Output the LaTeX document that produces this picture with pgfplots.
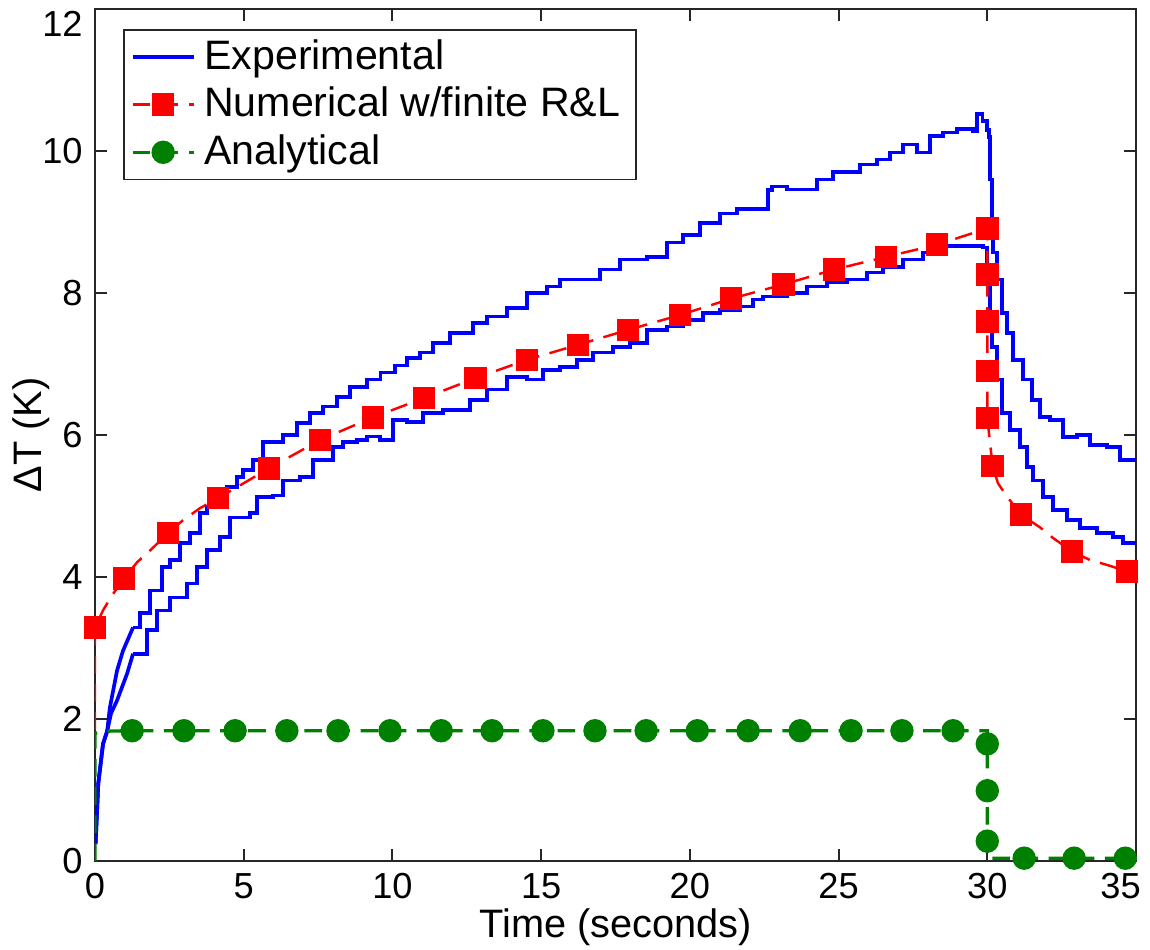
\documentclass[border=0pt]{standalone}
\usepackage{fontspec}
\setmainfont{Liberation Sans}
\usepackage{pgfplots}
\pgfplotsset{compat=1.18}
\definecolor{mblue}{rgb}{0,0,1}
\definecolor{mred}{rgb}{1,0,0}
\definecolor{mgreen}{rgb}{0,0.5,0}

\begin{document}
\begin{tikzpicture}
\begin{axis}[
    scale only axis,
    width=10.41cm, height=8.52cm,
    xmin=0, xmax=35, ymin=0, ymax=12,
    xtick={0,5,...,35}, ytick={0,2,...,12},
    xticklabels={0,5,10,15,20,25,30,\hspace*{-0.31cm}35},
    yticklabels={0,2,4,6,8,10,{\smash{\raisebox{-0.27cm}{12}}}},
    tick align=inside, major tick length=0.12cm,
    axis line style={line width=0.55pt, black!85},
    every tick/.style={black!85, line width=0.55pt},
    tick label style={font=\fontsize{10.3}{12}\selectfont},
    label style={font=\fontsize{11.3}{13}\selectfont, inner sep=0pt},
    xlabel={Time (seconds)}, ylabel={ΔT (K)},
    xlabel style={at={(axis description cs:0.5,-0.100)}, anchor=south},
    ylabel style={at={(axis description cs:-0.0432,0.5)}, anchor=south, rotate=0},
    legend image code/.code={\draw[mark repeat=2,mark phase=2,#1]
        plot coordinates {(0cm,0cm) (0.305cm,0cm) (0.61cm,0cm)};},
    legend style={at={(0.0269,0.9765)}, anchor=north west, draw=black!85,
        line width=0.45pt, font=\fontsize{11.7}{14}\selectfont, row sep=1.2pt,
        inner xsep=2pt, inner ysep=1.5pt,
        nodes={inner xsep=2.5pt, inner ysep=1.2pt}},
    legend cell align=left,
]
% Experimental, upper run: fast rise, then the stepped record
\addplot[mblue, line width=1.05pt, forget plot] coordinates {
(0.02,0.24)(0.11,1.09)(0.27,1.65)(0.41,1.83)(0.50,2.16)(0.74,2.68)(0.94,2.96)
(1.28,3.29)
};
\addplot[mblue, line width=1.05pt, const plot, forget plot] coordinates {
(1.28,3.29)(1.51,3.49)(1.85,3.81)(2.26,4.14)(2.52,4.24)(2.86,4.48)(3.20,4.62)
(3.53,4.90)(3.77,4.98)(4.44,5.27)(4.77,5.41)(4.98,5.51)(5.31,5.65)(5.65,5.90)
(6.32,6.0)(6.79,6.17)(7.23,6.31)(7.67,6.40)(8.13,6.54)(8.57,6.68)(9.14,6.78)
(9.60,6.88)(10.09,6.98)(10.49,7.08)(10.93,7.16)(11.37,7.30)(11.93,7.44)(12.71,7.58)
(13.18,7.67)(13.85,7.79)(14.53,8.0)(15.20,8.09)(15.64,8.19)(16.31,8.19)(16.98,8.33)
(17.65,8.47)(18.56,8.51)(19.24,8.71)(19.77,8.82)(20.35,8.99)(21.02,9.12)(21.58,9.18)
(22.46,9.18)(22.63,9.45)(22.76,9.50)(23.27,9.46)(23.71,9.46)(24.27,9.6)(24.82,9.70)
(25.38,9.70)(25.73,9.81)(26.29,9.88)(26.73,9.98)(27.17,10.09)(27.64,9.98)(28.08,10.21)
(28.51,10.26)(28.99,10.31)(29.52,10.28)(29.66,10.52)(29.84,10.42)(29.98,10.3)
(30.06,10.2)(30.09,9.6)(30.16,9.04)(30.19,8.57)(30.33,8.19)(30.50,7.72)(30.67,7.44)
(30.87,7.06)(31.20,6.78)(31.51,6.49)(31.78,6.25)(32.11,6.21)(32.55,5.97)(33.02,6.0)
(33.46,5.86)(34.03,5.83)(34.47,5.65)(35.0,5.68)
};
% Experimental, lower run
\addplot[mblue, line width=1.05pt, forget plot] coordinates {
(0.02,0.24)(0.11,1.09)(0.27,1.65)(0.41,1.83)(0.54,2.08)(0.74,2.26)(1.08,2.64)
(1.28,2.92)
};
\addplot[mblue, line width=1.05pt, const plot, forget plot] coordinates {
(1.28,2.92)(1.75,3.25)(2.09,3.53)(2.52,3.71)(3.10,3.91)(3.43,4.14)(3.77,4.38)
(4.21,4.56)(4.54,4.84)(5.22,4.90)(5.44,5.13)(5.99,5.15)(6.32,5.36)(6.90,5.41)
(7.33,5.65)(8.01,5.83)(8.34,5.90)(8.81,5.93)(9.14,5.98)(9.58,5.93)(10.02,6.21)
(10.49,6.18)(11.02,6.31)(11.70,6.35)(12.61,6.49)(13.18,6.64)(13.85,6.82)(14.53,6.78)
(15.06,6.92)(15.64,6.96)(16.21,7.06)(16.74,7.16)(17.42,7.24)(17.99,7.30)(18.56,7.48)
(19.24,7.53)(19.77,7.62)(20.45,7.72)(21.02,7.76)(21.69,7.81)(22.13,7.91)(22.46,7.95)
(23.27,8.0)(23.94,8.09)(24.61,8.15)(25.28,8.19)(25.96,8.29)(26.50,8.37)(27.17,8.47)
(27.84,8.57)(28.41,8.66)(29.08,8.66)(29.86,8.64)(29.99,8.37)(30.02,8.19)(30.09,7.72)
(30.16,7.24)(30.33,6.78)(30.50,6.31)(30.77,6.07)(31.10,5.83)(31.34,5.55)(31.54,5.36)
(31.88,5.13)(32.21,4.94)(32.69,4.80)(33.12,4.69)(33.70,4.62)(34.23,4.56)(34.57,4.48)
(35.0,4.45)
};
% Numerical w/finite R&L
\addplot[mred, line width=0.7pt, dash pattern=on 5pt off 3pt, forget plot,
    mark=square*, mark size=2.85pt, mark options={solid},
    mark indices={2,5,8,11,12,13,14,15,16,17,18,19,20,21,22,23,24,25,26,27,28,29,30,31,34,37,40}]
coordinates {
(0,1.85)(0,3.29)(0.27,3.53)(0.57,3.74)(0.98,3.98)(1.42,4.21)(1.92,4.40)(2.45,4.62)
(2.96,4.80)(3.53,4.97)(4.14,5.11)(5.85,5.53)(7.57,5.93)(9.35,6.25)(11.06,6.52)
(12.79,6.80)(14.53,7.06)(16.24,7.27)(17.92,7.48)(19.67,7.69)(21.39,7.92)(23.14,8.12)
(24.85,8.33)(26.60,8.51)(28.31,8.68)(30.0,8.91)(30.0,8.26)(30.0,7.60)(30.0,6.90)
(30.0,6.24)(30.18,5.56)(30.36,5.32)(30.67,5.13)(31.13,4.88)(31.77,4.70)(32.21,4.55)
(32.85,4.36)(33.45,4.24)(34.03,4.17)(34.69,4.08)(35.0,4.04)
};
% Analytical
\addplot[mgreen, line width=0.95pt, dash pattern=on 5pt off 3pt, forget plot,
    mark=*, mark size=2.85pt, mark options={solid},
    mark indices={4,5,6,7,8,9,10,11,12,13,14,15,16,17,18,19,20,22,23,24,26,27,28}]
coordinates {
(0,0)(0,1.80)(0.49,1.83)(1.25,1.835)(2.99,1.835)(4.71,1.835)(6.45,1.835)(8.17,1.835)
(9.92,1.835)(11.64,1.835)(13.35,1.835)(15.06,1.835)(16.81,1.835)(18.53,1.835)
(20.25,1.835)(21.96,1.835)(23.71,1.835)(25.42,1.835)(27.13,1.835)(28.85,1.835)
(30.0,1.835)(30.0,1.65)(30.0,0.99)(30.0,0.28)(30.0,0.04)(31.24,0.04)(32.92,0.04)
(34.64,0.04)(35.0,0.04)
};
\addlegendimage{mblue, line width=1.05pt}
\addlegendentry{Experimental}
\addlegendimage{mred, line width=0.7pt, dash pattern=on 5pt off 3pt,
    mark=square*, mark size=2.85pt, mark options={solid}}
\addlegendentry{Numerical w/finite R\&L}
\addlegendimage{mgreen, line width=0.95pt, dash pattern=on 5pt off 3pt,
    mark=*, mark size=2.85pt, mark options={solid}}
\addlegendentry{Analytical}
\end{axis}
\pgfresetboundingbox
\path ([shift={(-0.95cm,-0.88cm)}]current axis.south west)
    rectangle ([shift={(0.14cm,0.09cm)}]current axis.north east);
\end{tikzpicture}
\end{document}
